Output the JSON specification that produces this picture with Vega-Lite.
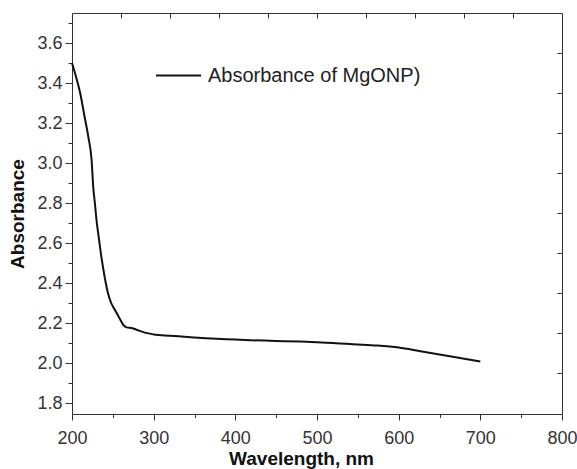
{
  "$schema": "https://vega.github.io/schema/vega-lite/v6.json",
  "width": 490,
  "height": 401,
  "autosize": {"type": "none"},
  "padding": {"left": 72, "top": 13, "right": 15, "bottom": 55},
  "background": "white",
  "config": {"view": {"stroke": null}, "axis": {"grid": false, "domainColor": "#333", "tickColor": "#333", "labelColor": "#333", "labelFont": "Liberation Sans", "labelFontSize": 18, "labelOverlap": false, "labelFlush": false, "titleColor": "#111"}},
  "data": {"values": [
    {"wl": 200, "abs": 3.50, "series": "Absorbance of MgONP)"},
    {"wl": 205, "abs": 3.43, "series": "Absorbance of MgONP)"},
    {"wl": 210, "abs": 3.35, "series": "Absorbance of MgONP)"},
    {"wl": 215, "abs": 3.24, "series": "Absorbance of MgONP)"},
    {"wl": 220, "abs": 3.13, "series": "Absorbance of MgONP)"},
    {"wl": 224, "abs": 3.015, "series": "Absorbance of MgONP)"},
    {"wl": 226, "abs": 2.88, "series": "Absorbance of MgONP)"},
    {"wl": 228, "abs": 2.80, "series": "Absorbance of MgONP)"},
    {"wl": 230, "abs": 2.715, "series": "Absorbance of MgONP)"},
    {"wl": 233, "abs": 2.62, "series": "Absorbance of MgONP)"},
    {"wl": 236, "abs": 2.53, "series": "Absorbance of MgONP)"},
    {"wl": 240, "abs": 2.43, "series": "Absorbance of MgONP)"},
    {"wl": 244, "abs": 2.35, "series": "Absorbance of MgONP)"},
    {"wl": 248, "abs": 2.30, "series": "Absorbance of MgONP)"},
    {"wl": 253, "abs": 2.262, "series": "Absorbance of MgONP)"},
    {"wl": 258, "abs": 2.225, "series": "Absorbance of MgONP)"},
    {"wl": 263, "abs": 2.19, "series": "Absorbance of MgONP)"},
    {"wl": 267, "abs": 2.178, "series": "Absorbance of MgONP)"},
    {"wl": 273, "abs": 2.175, "series": "Absorbance of MgONP)"},
    {"wl": 280, "abs": 2.165, "series": "Absorbance of MgONP)"},
    {"wl": 289, "abs": 2.152, "series": "Absorbance of MgONP)"},
    {"wl": 300, "abs": 2.143, "series": "Absorbance of MgONP)"},
    {"wl": 320, "abs": 2.136, "series": "Absorbance of MgONP)"},
    {"wl": 350, "abs": 2.128, "series": "Absorbance of MgONP)"},
    {"wl": 400, "abs": 2.117, "series": "Absorbance of MgONP)"},
    {"wl": 450, "abs": 2.11, "series": "Absorbance of MgONP)"},
    {"wl": 480, "abs": 2.107, "series": "Absorbance of MgONP)"},
    {"wl": 500, "abs": 2.104, "series": "Absorbance of MgONP)"},
    {"wl": 540, "abs": 2.095, "series": "Absorbance of MgONP)"},
    {"wl": 570, "abs": 2.088, "series": "Absorbance of MgONP)"},
    {"wl": 600, "abs": 2.077, "series": "Absorbance of MgONP)"},
    {"wl": 625, "abs": 2.06, "series": "Absorbance of MgONP)"},
    {"wl": 650, "abs": 2.042, "series": "Absorbance of MgONP)"},
    {"wl": 675, "abs": 2.025, "series": "Absorbance of MgONP)"},
    {"wl": 700, "abs": 2.008, "series": "Absorbance of MgONP)"}
  ]},
  "layer": [
    {
      "mark": {"type": "line", "strokeWidth": 2, "interpolate": "monotone"},
      "encoding": {
        "x": {"field": "wl", "type": "quantitative", "scale": {"domain": [200, 800], "nice": false, "zero": false},
          "axis": {"orient": "bottom", "title": "Wavelength, nm", "titleFont": "Liberation Sans", "titleFontSize": 19, "titleFontWeight": "bold",
            "titlePadding": 2, "titleX": 229, "titleAlign": "center",
            "values": [200, 250, 300, 350, 400, 450, 500, 550, 600, 650, 700, 750, 800],
            "labelExpr": "datum.value % 100 == 0 ? datum.label : ''",
            "tickSize": {"condition": {"test": "datum.value % 100 != 0", "value": 3.5}, "value": 6},
            "labelPadding": 9}},
        "y": {"field": "abs", "type": "quantitative", "scale": {"domain": [1.745, 3.75], "nice": false, "zero": false},
          "axis": {"orient": "left", "title": "Absorbance", "titleFont": "Liberation Sans", "titleFontSize": 19, "titleFontWeight": "bold", "titlePadding": 9,
            "values": [1.8, 1.9, 2.0, 2.1, 2.2, 2.3, 2.4, 2.5, 2.6, 2.7, 2.8, 2.9, 3.0, 3.1, 3.2, 3.3, 3.4, 3.5, 3.6, 3.7],
            "format": ".1f",
            "labelExpr": "round(datum.value * 10) % 2 == 0 ? datum.label : ''",
            "tickSize": {"condition": {"test": "round(datum.value * 10) % 2 != 0", "value": 4}, "value": 7},
            "labelPadding": 3}},
        "color": {"field": "series", "type": "nominal", "scale": {"range": ["#111111"]},
          "legend": {"title": null, "orient": "none", "legendX": 83, "legendY": 39, "symbolType": "stroke", "symbolSize": 2025, "symbolStrokeWidth": 2, "labelFont": "Liberation Sans", "labelFontSize": 20, "labelColor": "#222", "labelOffset": 6, "padding": 0, "labelLimit": 400}}
      }
    },
    {
      "mark": {"type": "line", "strokeOpacity": 0},
      "encoding": {
        "x": {"field": "wl", "type": "quantitative", "scale": {"domain": [200, 800], "nice": false, "zero": false},
          "axis": {"orient": "top", "title": null, "labels": false, "values": [260, 320, 380, 440, 500, 560, 620, 680, 740], "tickSize": -5}},
        "y": {"field": "abs", "type": "quantitative", "scale": {"domain": [1.745, 3.75], "nice": false, "zero": false},
          "axis": {"orient": "right", "title": null, "labels": false, "values": [1.95, 2.15, 2.35, 2.55, 2.75, 2.95, 3.15, 3.35, 3.55], "tickSize": -5}}
      }
    }
  ],
  "resolve": {"axis": {"x": "independent", "y": "independent"}}
}
